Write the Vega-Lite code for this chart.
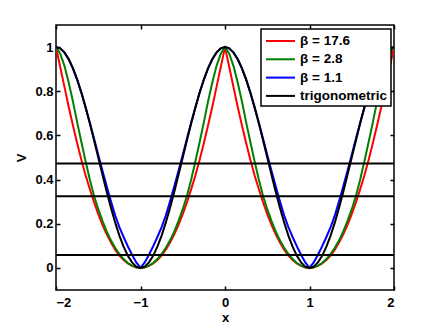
{
"$schema": "https://vega.github.io/schema/vega-lite/v6.json",
"width": 338, "height": 265,
"autosize": {"type": "none"},
"padding": {"left": 56, "top": 25, "right": 42, "bottom": 38},
"background": "white",
"config": {
  "view": {"stroke": "black", "strokeWidth": 1.5},
  "axis": {"grid": false, "domain": false, "labelFont": "Liberation Sans", "labelFontSize": 13, "labelFontWeight": "bold", "labelColor": "black", "titleFont": "Liberation Sans", "titleFontSize": 13, "titleFontWeight": "bold", "titleColor": "black", "tickColor": "black", "tickSize": -4, "tickWidth": 1.5}
},
"resolve": {"axis": {"x": "independent", "y": "independent"}},
"layer": [
{
"data": {"values": [
{"x":-2,"s":"β = 17.6","v":1},{"x":-1.95,"s":"β = 17.6","v":0.91},{"x":-1.9,"s":"β = 17.6","v":0.82},{"x":-1.85,"s":"β = 17.6","v":0.73},{"x":-1.8,"s":"β = 17.6","v":0.646},{"x":-1.75,"s":"β = 17.6","v":0.566},{"x":-1.7,"s":"β = 17.6","v":0.49},{"x":-1.65,"s":"β = 17.6","v":0.42},{"x":-1.6,"s":"β = 17.6","v":0.357},{"x":-1.55,"s":"β = 17.6","v":0.298},{"x":-1.5,"s":"β = 17.6","v":0.244},{"x":-1.45,"s":"β = 17.6","v":0.195},{"x":-1.4,"s":"β = 17.6","v":0.152},{"x":-1.35,"s":"β = 17.6","v":0.115},{"x":-1.3,"s":"β = 17.6","v":0.083},{"x":-1.25,"s":"β = 17.6","v":0.056},{"x":-1.2,"s":"β = 17.6","v":0.036},{"x":-1.15,"s":"β = 17.6","v":0.02},{"x":-1.1,"s":"β = 17.6","v":0.009},{"x":-1.05,"s":"β = 17.6","v":0.002},{"x":-1,"s":"β = 17.6","v":0},
{"x":-0.95,"s":"β = 17.6","v":0.002},{"x":-0.9,"s":"β = 17.6","v":0.009},{"x":-0.85,"s":"β = 17.6","v":0.02},{"x":-0.8,"s":"β = 17.6","v":0.036},{"x":-0.75,"s":"β = 17.6","v":0.056},{"x":-0.7,"s":"β = 17.6","v":0.083},{"x":-0.65,"s":"β = 17.6","v":0.115},{"x":-0.6,"s":"β = 17.6","v":0.152},{"x":-0.55,"s":"β = 17.6","v":0.195},{"x":-0.5,"s":"β = 17.6","v":0.244},{"x":-0.45,"s":"β = 17.6","v":0.298},{"x":-0.4,"s":"β = 17.6","v":0.357},{"x":-0.35,"s":"β = 17.6","v":0.42},{"x":-0.3,"s":"β = 17.6","v":0.49},{"x":-0.25,"s":"β = 17.6","v":0.566},{"x":-0.2,"s":"β = 17.6","v":0.646},{"x":-0.15,"s":"β = 17.6","v":0.73},{"x":-0.1,"s":"β = 17.6","v":0.82},{"x":-0.05,"s":"β = 17.6","v":0.91},{"x":0,"s":"β = 17.6","v":1},
{"x":0.05,"s":"β = 17.6","v":0.91},{"x":0.1,"s":"β = 17.6","v":0.82},{"x":0.15,"s":"β = 17.6","v":0.73},{"x":0.2,"s":"β = 17.6","v":0.646},{"x":0.25,"s":"β = 17.6","v":0.566},{"x":0.3,"s":"β = 17.6","v":0.49},{"x":0.35,"s":"β = 17.6","v":0.42},{"x":0.4,"s":"β = 17.6","v":0.357},{"x":0.45,"s":"β = 17.6","v":0.298},{"x":0.5,"s":"β = 17.6","v":0.244},{"x":0.55,"s":"β = 17.6","v":0.195},{"x":0.6,"s":"β = 17.6","v":0.152},{"x":0.65,"s":"β = 17.6","v":0.115},{"x":0.7,"s":"β = 17.6","v":0.083},{"x":0.75,"s":"β = 17.6","v":0.056},{"x":0.8,"s":"β = 17.6","v":0.036},{"x":0.85,"s":"β = 17.6","v":0.02},{"x":0.9,"s":"β = 17.6","v":0.009},{"x":0.95,"s":"β = 17.6","v":0.002},{"x":1,"s":"β = 17.6","v":0},
{"x":1.05,"s":"β = 17.6","v":0.002},{"x":1.1,"s":"β = 17.6","v":0.009},{"x":1.15,"s":"β = 17.6","v":0.02},{"x":1.2,"s":"β = 17.6","v":0.036},{"x":1.25,"s":"β = 17.6","v":0.056},{"x":1.3,"s":"β = 17.6","v":0.083},{"x":1.35,"s":"β = 17.6","v":0.115},{"x":1.4,"s":"β = 17.6","v":0.152},{"x":1.45,"s":"β = 17.6","v":0.195},{"x":1.5,"s":"β = 17.6","v":0.244},{"x":1.55,"s":"β = 17.6","v":0.298},{"x":1.6,"s":"β = 17.6","v":0.357},{"x":1.65,"s":"β = 17.6","v":0.42},{"x":1.7,"s":"β = 17.6","v":0.49},{"x":1.75,"s":"β = 17.6","v":0.566},{"x":1.8,"s":"β = 17.6","v":0.646},{"x":1.85,"s":"β = 17.6","v":0.73},{"x":1.9,"s":"β = 17.6","v":0.82},{"x":1.95,"s":"β = 17.6","v":0.91},{"x":2,"s":"β = 17.6","v":1},

{"x":-2,"s":"β = 2.8","v":1},{"x":-1.95,"s":"β = 2.8","v":0.97},{"x":-1.9,"s":"β = 2.8","v":0.915},{"x":-1.85,"s":"β = 2.8","v":0.84},{"x":-1.8,"s":"β = 2.8","v":0.755},{"x":-1.75,"s":"β = 2.8","v":0.66},{"x":-1.7,"s":"β = 2.8","v":0.57},{"x":-1.65,"s":"β = 2.8","v":0.483},{"x":-1.6,"s":"β = 2.8","v":0.4},{"x":-1.55,"s":"β = 2.8","v":0.327},{"x":-1.5,"s":"β = 2.8","v":0.266},{"x":-1.45,"s":"β = 2.8","v":0.213},{"x":-1.4,"s":"β = 2.8","v":0.165},{"x":-1.35,"s":"β = 2.8","v":0.125},{"x":-1.3,"s":"β = 2.8","v":0.091},{"x":-1.25,"s":"β = 2.8","v":0.063},{"x":-1.2,"s":"β = 2.8","v":0.04},{"x":-1.15,"s":"β = 2.8","v":0.022},{"x":-1.1,"s":"β = 2.8","v":0.01},{"x":-1.05,"s":"β = 2.8","v":0.0025},{"x":-1,"s":"β = 2.8","v":0},
{"x":-0.95,"s":"β = 2.8","v":0.0025},{"x":-0.9,"s":"β = 2.8","v":0.01},{"x":-0.85,"s":"β = 2.8","v":0.022},{"x":-0.8,"s":"β = 2.8","v":0.04},{"x":-0.75,"s":"β = 2.8","v":0.063},{"x":-0.7,"s":"β = 2.8","v":0.091},{"x":-0.65,"s":"β = 2.8","v":0.125},{"x":-0.6,"s":"β = 2.8","v":0.165},{"x":-0.55,"s":"β = 2.8","v":0.213},{"x":-0.5,"s":"β = 2.8","v":0.266},{"x":-0.45,"s":"β = 2.8","v":0.327},{"x":-0.4,"s":"β = 2.8","v":0.4},{"x":-0.35,"s":"β = 2.8","v":0.483},{"x":-0.3,"s":"β = 2.8","v":0.57},{"x":-0.25,"s":"β = 2.8","v":0.66},{"x":-0.2,"s":"β = 2.8","v":0.755},{"x":-0.15,"s":"β = 2.8","v":0.84},{"x":-0.1,"s":"β = 2.8","v":0.915},{"x":-0.05,"s":"β = 2.8","v":0.97},{"x":0,"s":"β = 2.8","v":1},
{"x":0.05,"s":"β = 2.8","v":0.97},{"x":0.1,"s":"β = 2.8","v":0.915},{"x":0.15,"s":"β = 2.8","v":0.84},{"x":0.2,"s":"β = 2.8","v":0.755},{"x":0.25,"s":"β = 2.8","v":0.66},{"x":0.3,"s":"β = 2.8","v":0.57},{"x":0.35,"s":"β = 2.8","v":0.483},{"x":0.4,"s":"β = 2.8","v":0.4},{"x":0.45,"s":"β = 2.8","v":0.327},{"x":0.5,"s":"β = 2.8","v":0.266},{"x":0.55,"s":"β = 2.8","v":0.213},{"x":0.6,"s":"β = 2.8","v":0.165},{"x":0.65,"s":"β = 2.8","v":0.125},{"x":0.7,"s":"β = 2.8","v":0.091},{"x":0.75,"s":"β = 2.8","v":0.063},{"x":0.8,"s":"β = 2.8","v":0.04},{"x":0.85,"s":"β = 2.8","v":0.022},{"x":0.9,"s":"β = 2.8","v":0.01},{"x":0.95,"s":"β = 2.8","v":0.0025},{"x":1,"s":"β = 2.8","v":0},
{"x":1.05,"s":"β = 2.8","v":0.0025},{"x":1.1,"s":"β = 2.8","v":0.01},{"x":1.15,"s":"β = 2.8","v":0.022},{"x":1.2,"s":"β = 2.8","v":0.04},{"x":1.25,"s":"β = 2.8","v":0.063},{"x":1.3,"s":"β = 2.8","v":0.091},{"x":1.35,"s":"β = 2.8","v":0.125},{"x":1.4,"s":"β = 2.8","v":0.165},{"x":1.45,"s":"β = 2.8","v":0.213},{"x":1.5,"s":"β = 2.8","v":0.266},{"x":1.55,"s":"β = 2.8","v":0.327},{"x":1.6,"s":"β = 2.8","v":0.4},{"x":1.65,"s":"β = 2.8","v":0.483},{"x":1.7,"s":"β = 2.8","v":0.57},{"x":1.75,"s":"β = 2.8","v":0.66},{"x":1.8,"s":"β = 2.8","v":0.755},{"x":1.85,"s":"β = 2.8","v":0.84},{"x":1.9,"s":"β = 2.8","v":0.915},{"x":1.95,"s":"β = 2.8","v":0.97},{"x":2,"s":"β = 2.8","v":1},

{"x":-2,"s":"β = 1.1","v":1},{"x":-1.95,"s":"β = 1.1","v":0.994},{"x":-1.9,"s":"β = 1.1","v":0.975},{"x":-1.85,"s":"β = 1.1","v":0.945},{"x":-1.8,"s":"β = 1.1","v":0.904},{"x":-1.75,"s":"β = 1.1","v":0.853},{"x":-1.7,"s":"β = 1.1","v":0.794},{"x":-1.65,"s":"β = 1.1","v":0.728},{"x":-1.6,"s":"β = 1.1","v":0.658},{"x":-1.55,"s":"β = 1.1","v":0.586},{"x":-1.5,"s":"β = 1.1","v":0.512},{"x":-1.45,"s":"β = 1.1","v":0.44},{"x":-1.4,"s":"β = 1.1","v":0.37},{"x":-1.35,"s":"β = 1.1","v":0.302},{"x":-1.3,"s":"β = 1.1","v":0.238},{"x":-1.25,"s":"β = 1.1","v":0.185},{"x":-1.2,"s":"β = 1.1","v":0.14},{"x":-1.15,"s":"β = 1.1","v":0.098},{"x":-1.1,"s":"β = 1.1","v":0.06},{"x":-1.05,"s":"β = 1.1","v":0.025},{"x":-1,"s":"β = 1.1","v":0},
{"x":-0.95,"s":"β = 1.1","v":0.025},{"x":-0.9,"s":"β = 1.1","v":0.06},{"x":-0.85,"s":"β = 1.1","v":0.098},{"x":-0.8,"s":"β = 1.1","v":0.14},{"x":-0.75,"s":"β = 1.1","v":0.185},{"x":-0.7,"s":"β = 1.1","v":0.238},{"x":-0.65,"s":"β = 1.1","v":0.302},{"x":-0.6,"s":"β = 1.1","v":0.37},{"x":-0.55,"s":"β = 1.1","v":0.44},{"x":-0.5,"s":"β = 1.1","v":0.512},{"x":-0.45,"s":"β = 1.1","v":0.586},{"x":-0.4,"s":"β = 1.1","v":0.658},{"x":-0.35,"s":"β = 1.1","v":0.728},{"x":-0.3,"s":"β = 1.1","v":0.794},{"x":-0.25,"s":"β = 1.1","v":0.853},{"x":-0.2,"s":"β = 1.1","v":0.904},{"x":-0.15,"s":"β = 1.1","v":0.945},{"x":-0.1,"s":"β = 1.1","v":0.975},{"x":-0.05,"s":"β = 1.1","v":0.994},{"x":0,"s":"β = 1.1","v":1},
{"x":0.05,"s":"β = 1.1","v":0.994},{"x":0.1,"s":"β = 1.1","v":0.975},{"x":0.15,"s":"β = 1.1","v":0.945},{"x":0.2,"s":"β = 1.1","v":0.904},{"x":0.25,"s":"β = 1.1","v":0.853},{"x":0.3,"s":"β = 1.1","v":0.794},{"x":0.35,"s":"β = 1.1","v":0.728},{"x":0.4,"s":"β = 1.1","v":0.658},{"x":0.45,"s":"β = 1.1","v":0.586},{"x":0.5,"s":"β = 1.1","v":0.512},{"x":0.55,"s":"β = 1.1","v":0.44},{"x":0.6,"s":"β = 1.1","v":0.37},{"x":0.65,"s":"β = 1.1","v":0.302},{"x":0.7,"s":"β = 1.1","v":0.238},{"x":0.75,"s":"β = 1.1","v":0.185},{"x":0.8,"s":"β = 1.1","v":0.14},{"x":0.85,"s":"β = 1.1","v":0.098},{"x":0.9,"s":"β = 1.1","v":0.06},{"x":0.95,"s":"β = 1.1","v":0.025},{"x":1,"s":"β = 1.1","v":0},
{"x":1.05,"s":"β = 1.1","v":0.025},{"x":1.1,"s":"β = 1.1","v":0.06},{"x":1.15,"s":"β = 1.1","v":0.098},{"x":1.2,"s":"β = 1.1","v":0.14},{"x":1.25,"s":"β = 1.1","v":0.185},{"x":1.3,"s":"β = 1.1","v":0.238},{"x":1.35,"s":"β = 1.1","v":0.302},{"x":1.4,"s":"β = 1.1","v":0.37},{"x":1.45,"s":"β = 1.1","v":0.44},{"x":1.5,"s":"β = 1.1","v":0.512},{"x":1.55,"s":"β = 1.1","v":0.586},{"x":1.6,"s":"β = 1.1","v":0.658},{"x":1.65,"s":"β = 1.1","v":0.728},{"x":1.7,"s":"β = 1.1","v":0.794},{"x":1.75,"s":"β = 1.1","v":0.853},{"x":1.8,"s":"β = 1.1","v":0.904},{"x":1.85,"s":"β = 1.1","v":0.945},{"x":1.9,"s":"β = 1.1","v":0.975},{"x":1.95,"s":"β = 1.1","v":0.994},{"x":2,"s":"β = 1.1","v":1},

{"x":-2,"s":"trigonometric","v":1},{"x":-1.95,"s":"trigonometric","v":0.994},{"x":-1.9,"s":"trigonometric","v":0.976},{"x":-1.85,"s":"trigonometric","v":0.946},{"x":-1.8,"s":"trigonometric","v":0.905},{"x":-1.75,"s":"trigonometric","v":0.854},{"x":-1.7,"s":"trigonometric","v":0.794},{"x":-1.65,"s":"trigonometric","v":0.727},{"x":-1.6,"s":"trigonometric","v":0.655},{"x":-1.55,"s":"trigonometric","v":0.578},{"x":-1.5,"s":"trigonometric","v":0.5},{"x":-1.45,"s":"trigonometric","v":0.422},{"x":-1.4,"s":"trigonometric","v":0.345},{"x":-1.35,"s":"trigonometric","v":0.273},{"x":-1.3,"s":"trigonometric","v":0.206},{"x":-1.25,"s":"trigonometric","v":0.146},{"x":-1.2,"s":"trigonometric","v":0.096},{"x":-1.15,"s":"trigonometric","v":0.055},{"x":-1.1,"s":"trigonometric","v":0.025},{"x":-1.05,"s":"trigonometric","v":0.006},{"x":-1,"s":"trigonometric","v":0},
{"x":-0.95,"s":"trigonometric","v":0.006},{"x":-0.9,"s":"trigonometric","v":0.025},{"x":-0.85,"s":"trigonometric","v":0.055},{"x":-0.8,"s":"trigonometric","v":0.096},{"x":-0.75,"s":"trigonometric","v":0.146},{"x":-0.7,"s":"trigonometric","v":0.206},{"x":-0.65,"s":"trigonometric","v":0.273},{"x":-0.6,"s":"trigonometric","v":0.345},{"x":-0.55,"s":"trigonometric","v":0.422},{"x":-0.5,"s":"trigonometric","v":0.5},{"x":-0.45,"s":"trigonometric","v":0.578},{"x":-0.4,"s":"trigonometric","v":0.655},{"x":-0.35,"s":"trigonometric","v":0.727},{"x":-0.3,"s":"trigonometric","v":0.794},{"x":-0.25,"s":"trigonometric","v":0.854},{"x":-0.2,"s":"trigonometric","v":0.905},{"x":-0.15,"s":"trigonometric","v":0.946},{"x":-0.1,"s":"trigonometric","v":0.976},{"x":-0.05,"s":"trigonometric","v":0.994},{"x":0,"s":"trigonometric","v":1},
{"x":0.05,"s":"trigonometric","v":0.994},{"x":0.1,"s":"trigonometric","v":0.976},{"x":0.15,"s":"trigonometric","v":0.946},{"x":0.2,"s":"trigonometric","v":0.905},{"x":0.25,"s":"trigonometric","v":0.854},{"x":0.3,"s":"trigonometric","v":0.794},{"x":0.35,"s":"trigonometric","v":0.727},{"x":0.4,"s":"trigonometric","v":0.655},{"x":0.45,"s":"trigonometric","v":0.578},{"x":0.5,"s":"trigonometric","v":0.5},{"x":0.55,"s":"trigonometric","v":0.422},{"x":0.6,"s":"trigonometric","v":0.345},{"x":0.65,"s":"trigonometric","v":0.273},{"x":0.7,"s":"trigonometric","v":0.206},{"x":0.75,"s":"trigonometric","v":0.146},{"x":0.8,"s":"trigonometric","v":0.096},{"x":0.85,"s":"trigonometric","v":0.055},{"x":0.9,"s":"trigonometric","v":0.025},{"x":0.95,"s":"trigonometric","v":0.006},{"x":1,"s":"trigonometric","v":0},
{"x":1.05,"s":"trigonometric","v":0.006},{"x":1.1,"s":"trigonometric","v":0.025},{"x":1.15,"s":"trigonometric","v":0.055},{"x":1.2,"s":"trigonometric","v":0.096},{"x":1.25,"s":"trigonometric","v":0.146},{"x":1.3,"s":"trigonometric","v":0.206},{"x":1.35,"s":"trigonometric","v":0.273},{"x":1.4,"s":"trigonometric","v":0.345},{"x":1.45,"s":"trigonometric","v":0.422},{"x":1.5,"s":"trigonometric","v":0.5},{"x":1.55,"s":"trigonometric","v":0.578},{"x":1.6,"s":"trigonometric","v":0.655},{"x":1.65,"s":"trigonometric","v":0.727},{"x":1.7,"s":"trigonometric","v":0.794},{"x":1.75,"s":"trigonometric","v":0.854},{"x":1.8,"s":"trigonometric","v":0.905},{"x":1.85,"s":"trigonometric","v":0.946},{"x":1.9,"s":"trigonometric","v":0.976},{"x":1.95,"s":"trigonometric","v":0.994},{"x":2,"s":"trigonometric","v":1}
]},
"mark": {"type": "line", "strokeWidth": 2, "clip": true},
"encoding": {
  "x": {"field": "x", "type": "quantitative", "scale": {"domain": [-2, 2], "nice": false}, "axis": {"values": [-2, -1, 0, 1, 2], "title": "x", "labelPadding": 10, "titlePadding": 2}},
  "y": {"field": "v", "type": "quantitative", "scale": {"domain": [-0.1, 1.1], "nice": false, "zero": false}, "axis": {"values": [0, 0.2, 0.4, 0.6, 0.8, 1], "format": "~g", "title": "V", "labelPadding": 7, "titlePadding": 6}},
  "color": {"field": "s", "type": "nominal", "scale": {"domain": ["β = 17.6", "β = 2.8", "β = 1.1", "trigonometric"], "range": ["#ff0000", "#008000", "#0000ff", "#000000"]},
    "legend": {"orient": "none", "legendX": 205, "legendY": 4, "title": null, "symbolType": "M-0.875,0H2.75", "symbolSize": 256, "symbolStrokeWidth": 2, "labelFont": "Liberation Sans", "labelFontSize": 13.5, "labelFontWeight": "bold", "labelColor": "black", "labelOffset": 18, "labelLimit": 300, "rowPadding": 2.3, "padding": 3, "strokeColor": "black", "fillColor": "white",
      "encode": {"legend": {"update": {"strokeWidth": {"value": 1.5}}}}}}
}
},
{
"data": {"values": [{"h": 0.473}, {"h": 0.324}, {"h": 0.058}]},
"mark": {"type": "rule", "strokeWidth": 2, "color": "black"},
"encoding": {
  "y": {"field": "h", "type": "quantitative", "axis": {"orient": "right", "labels": false, "title": null, "values": [0, 0.2, 0.4, 0.6, 0.8, 1]}},
  "x": {"datum": -2, "type": "quantitative", "axis": {"orient": "top", "labels": false, "title": null, "values": [-2, -1, 0, 1, 2]}},
  "x2": {"datum": 2}
}
}
]
}
